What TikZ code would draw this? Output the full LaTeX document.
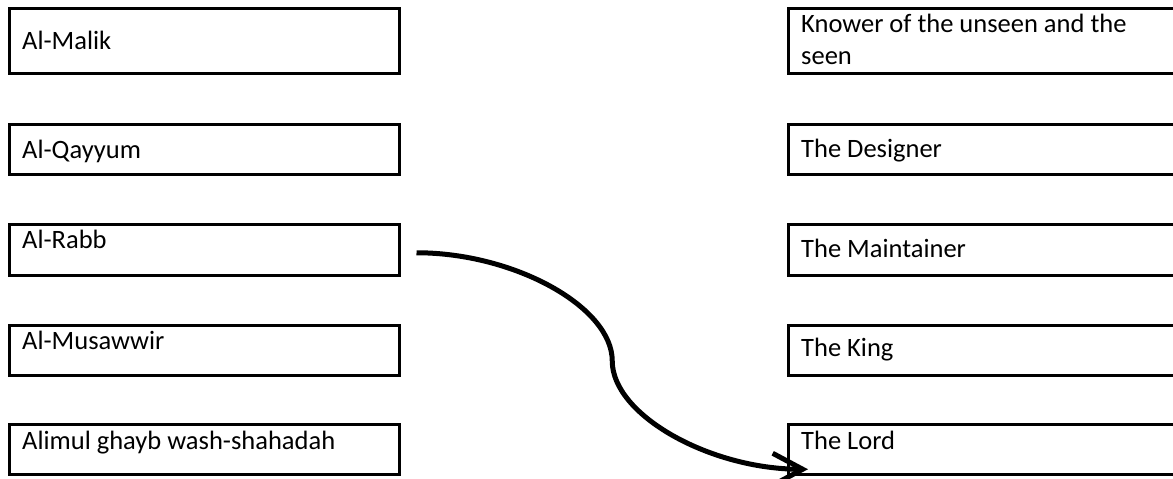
\documentclass[tikz,border=0pt]{standalone}
\usepackage{fontspec}
\setmainfont{Carlito}
\usetikzlibrary{arrows.meta,calc}
\begin{document}
\begin{tikzpicture}[x=1pt,y=-1pt,
  box/.style={draw=black, line width=2.5pt, rectangle, inner sep=0pt, anchor=north west},
  lbox/.style={box, minimum width=390pt},
  rbox/.style={box, minimum width=420pt},
  lbl/.style={anchor=base west, inner sep=0pt, text=black, font=\fontsize{26.5}{32}\selectfont},
  conn/.style={line width=5pt, -{Straight Barb[length=30pt,width=32pt]}}]
\clip (0,0) rectangle (1173,479);
\fill[white] (0,0) rectangle (1173,479);
% left column
\node[lbox, minimum height=65pt] (malik) at (8,7) {};
\node[lbl] (malikt) at ($(malik.north west)+(14,42)$) {Al-Malik};
\node[lbox, minimum height=50pt] (qayyum) at (8,123) {};
\node[lbl] (qayyumt) at ($(qayyum.north west)+(14,35)$) {Al-Qayyum};
\node[lbox, minimum height=51pt] (rabb) at (8,223) {};
\node[lbl] (rabbt) at ($(rabb.north west)+(14,25)$) {Al-Rabb};
\node[lbox, minimum height=50pt] (musawwir) at (8,324) {};
\node[lbl] (musawwirt) at ($(musawwir.north west)+(14,25)$) {Al-Musawwir};
\node[lbox, minimum height=50pt] (alimul) at (8,423) {};
\node[lbl] (alimult) at ($(alimul.north west)+(14,26)$) {Alimul ghayb wash-shahadah};
% right column
\node[rbox, minimum height=65pt] (knower) at (787,7) {};
\node[lbl, align=left] (knowert) at ($(knower.north west)+(14,57)$) {Knower of the unseen and the\\seen};
\node[rbox, minimum height=50pt] (designer) at (787,123) {};
\node[lbl] (designert) at ($(designer.north west)+(14,34)$) {The Designer};
\node[rbox, minimum height=51pt] (maintainer) at (787,223) {};
\node[lbl] (maintainert) at ($(maintainer.north west)+(14,34)$) {The Maintainer};
\node[rbox, minimum height=50pt] (king) at (787,324) {};
\node[lbl] (kingt) at ($(king.north west)+(14,32)$) {The King};
\node[rbox, minimum height=50pt] (lord) at (787,423) {};
\node[lbl] (lordt) at ($(lord.north west)+(14,26)$) {The Lord};
% connector
\coordinate (s) at ($(rabb.east)+(16,3)$);
\coordinate (e) at ($(lord.west)+(21,20)$);
\coordinate (m) at ($(s)!0.5!(e)$);
\draw[conn] (s) .. controls ($(s)+(98,0)$) and ($(m)+(0,-54)$) .. (m)
  .. controls ($(m)+(0,54)$) and ($(e)+(-98,0)$) .. (e);
\end{tikzpicture}
\end{document}
